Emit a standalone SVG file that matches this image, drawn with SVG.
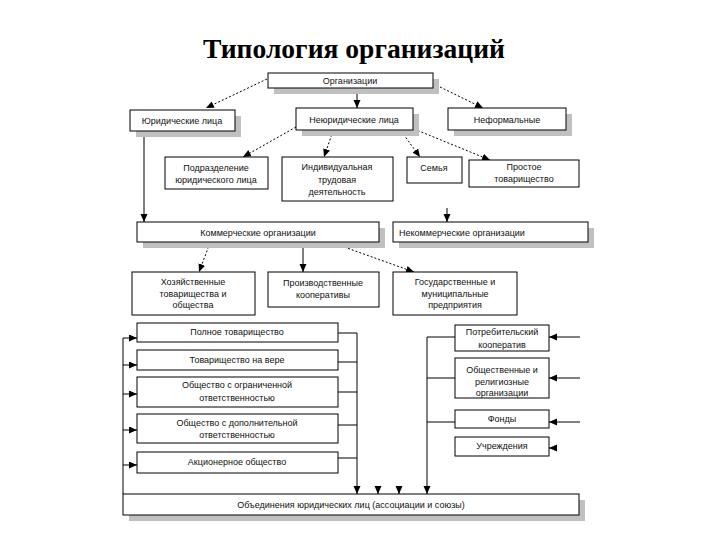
<svg xmlns="http://www.w3.org/2000/svg" width="720" height="540" viewBox="0 0 720 540">
<defs>
<marker id="ah" markerUnits="userSpaceOnUse" markerWidth="9" markerHeight="8" refX="8" refY="3.5" orient="auto">
<path d="M0,0 L8,3.5 L0,7 z" fill="#000"/>
</marker>
</defs>
<style>
.box{fill:#fff;stroke:#000;stroke-width:1}
.sh{fill:#c0c0c0}
.t{font-family:"Liberation Sans",Arial,sans-serif;font-size:9px;fill:#111;text-anchor:middle}
.c{fill:none;stroke:#000;stroke-width:1}
.d{fill:none;stroke:#000;stroke-width:1;stroke-dasharray:2,2}
.a{marker-end:url(#ah)}
</style>
<rect width="720" height="540" fill="#fff"/>
<text x="354" y="58" font-family="'Liberation Serif','Times New Roman',serif" font-weight="bold" font-size="27" text-anchor="middle" textLength="302" lengthAdjust="spacingAndGlyphs" fill="#000">Типология организаций</text>

<g id="connectors">
<line class="d a" x1="267" y1="79" x2="206" y2="108"/>
<line class="d a" x1="440" y1="87" x2="483" y2="108"/>
<line class="c a" x1="357" y1="88" x2="357" y2="108"/>
<line class="d a" x1="296" y1="127" x2="243" y2="157"/>
<line class="d a" x1="333" y1="131" x2="324" y2="157"/>
<line class="d a" x1="401" y1="131" x2="420" y2="157"/>
<line class="d a" x1="414" y1="129" x2="490" y2="160"/>
<line class="c a" x1="144" y1="131" x2="144" y2="222"/>
<line class="c a" x1="447" y1="208" x2="447" y2="222"/>
<line class="d a" x1="210" y1="243" x2="199" y2="272"/>
<line class="c a" x1="303" y1="243" x2="303" y2="272"/>
<line class="d a" x1="333" y1="243" x2="414" y2="272"/>
<!-- left bus -->
<line class="c" x1="123" y1="338" x2="123" y2="494"/>
<line class="c a" x1="123" y1="338" x2="137" y2="338"/>
<line class="c a" x1="123" y1="365" x2="137" y2="365"/>
<line class="c a" x1="123" y1="394" x2="137" y2="394"/>
<line class="c a" x1="123" y1="430" x2="137" y2="430"/>
<line class="c a" x1="123" y1="465" x2="137" y2="465"/>
<!-- middle bus -->
<line class="c" x1="338" y1="333" x2="357" y2="333"/>
<line class="c" x1="338" y1="362" x2="357" y2="362"/>
<line class="c" x1="338" y1="392" x2="357" y2="392"/>
<line class="c" x1="338" y1="425" x2="357" y2="425"/>
<line class="c" x1="338" y1="458" x2="357" y2="458"/>
<line class="c a" x1="357" y1="333" x2="357" y2="494"/>
<line class="c a" x1="378" y1="486" x2="378" y2="494"/>
<line class="c a" x1="399" y1="486" x2="399" y2="494"/>
<!-- right bus -->
<line class="c a" x1="427" y1="337" x2="427" y2="494"/>
<line class="c" x1="427" y1="337" x2="455" y2="337"/>
<line class="c" x1="427" y1="378" x2="455" y2="378"/>
<line class="c" x1="427" y1="422" x2="455" y2="422"/>
<line class="c a" x1="580" y1="337" x2="549" y2="337"/>
<line class="c a" x1="580" y1="378" x2="549" y2="378"/>
<line class="c a" x1="580" y1="422" x2="549" y2="422"/>
<line class="c a" x1="557" y1="448" x2="549" y2="448"/>
</g>

<g id="n-org"><rect class="sh" x="274" y="79" width="165" height="15"/><rect class="box" x="268" y="73" width="165" height="15"/><text class="t" x="350" y="84">Организации</text></g>
<g id="n-jur"><rect class="sh" x="136" y="116" width="105" height="21"/><rect class="box" x="130" y="110" width="105" height="21"/><text class="t" x="182" y="124">Юридические лица</text></g>
<g id="n-nejur"><rect class="sh" x="302" y="114" width="117" height="22"/><rect class="box" x="296" y="108" width="117" height="22"/><text class="t" x="354" y="123">Неюридические лица</text></g>
<g id="n-neform"><rect class="sh" x="454" y="114" width="118" height="22"/><rect class="box" x="448" y="108" width="118" height="22"/><text class="t" x="507" y="123">Неформальные</text></g>

<g id="n-podr"><rect class="box" x="165" y="157" width="103" height="32"/><text class="t" x="216" y="171">Подразделение</text><text class="t" x="216" y="183">юридического лица</text></g>
<g id="n-ind"><rect class="box" x="282" y="157" width="111" height="44"/><text class="t" x="337" y="170">Индивидуальная</text><text class="t" x="337" y="183">трудовая</text><text class="t" x="337" y="195">деятельность</text></g>
<g id="n-sem"><rect class="box" x="407" y="157" width="55" height="26"/><text class="t" x="434" y="171">Семья</text></g>
<g id="n-prost"><rect class="box" x="469" y="160" width="110" height="27"/><text class="t" x="524" y="170">Простое</text><text class="t" x="524" y="182">товарищество</text></g>

<g id="n-kom"><rect class="sh" x="143" y="228" width="242" height="20"/><rect class="box" x="137" y="222" width="242" height="20"/><text class="t" x="258" y="236">Коммерческие организации</text></g>
<g id="n-nekom"><rect class="sh" x="399" y="228" width="195" height="20"/><rect class="box" x="393" y="222" width="195" height="20"/><text class="t" x="399" y="236" style="text-anchor:start">Некоммерческие организации</text></g>

<g id="n-hoz"><rect class="box" x="132" y="272" width="123" height="43"/><text class="t" x="193" y="285">Хозяйственные</text><text class="t" x="193" y="297">товарищества и</text><text class="t" x="193" y="308">общества</text></g>
<g id="n-proizv"><rect class="box" x="268" y="272" width="111" height="35"/><text class="t" x="323" y="286">Производственные</text><text class="t" x="323" y="298">кооперативы</text></g>
<g id="n-gos"><rect class="box" x="393" y="272" width="124" height="43"/><text class="t" x="455" y="285">Государственные и</text><text class="t" x="455" y="297">муниципальные</text><text class="t" x="455" y="308">предприятия</text></g>

<g id="n-poln"><rect class="box" x="137" y="323" width="201" height="19"/><text class="t" x="237" y="335">Полное товарищество</text></g>
<g id="n-vera"><rect class="box" x="137" y="350" width="201" height="20"/><text class="t" x="237" y="363">Товарищество на вере</text></g>
<g id="n-ooo"><rect class="box" x="137" y="377" width="201" height="30"/><text class="t" x="237" y="388">Общество с ограниченной</text><text class="t" x="237" y="401">ответственностью</text></g>
<g id="n-odo"><rect class="box" x="137" y="414" width="201" height="29"/><text class="t" x="237" y="426">Общество с дополнительной</text><text class="t" x="237" y="438">ответственностью</text></g>
<g id="n-ao"><rect class="box" x="137" y="452" width="201" height="21"/><text class="t" x="237" y="465">Акционерное общество</text></g>

<g id="n-potr"><rect class="box" x="455" y="325" width="94" height="26"/><text class="t" x="502" y="335">Потребительский</text><text class="t" x="502" y="348">кооператив</text></g>
<g id="n-obsh"><rect class="box" x="455" y="358" width="94" height="40"/><text class="t" x="502" y="373">Общественные и</text><text class="t" x="502" y="385">религиозные</text><text class="t" x="502" y="396">организации</text></g>
<g id="n-fond"><rect class="box" x="455" y="410" width="94" height="18"/><text class="t" x="502" y="422">Фонды</text></g>
<g id="n-uchr"><rect class="box" x="455" y="437" width="94" height="19"/><text class="t" x="502" y="449">Учреждения</text></g>

<g id="n-obed"><rect class="sh" x="129" y="500" width="456" height="21"/><rect class="box" x="123" y="494" width="456" height="21"/><text class="t" x="351" y="508">Объединения юридических лиц (ассоциации и союзы)</text></g>
</svg>
